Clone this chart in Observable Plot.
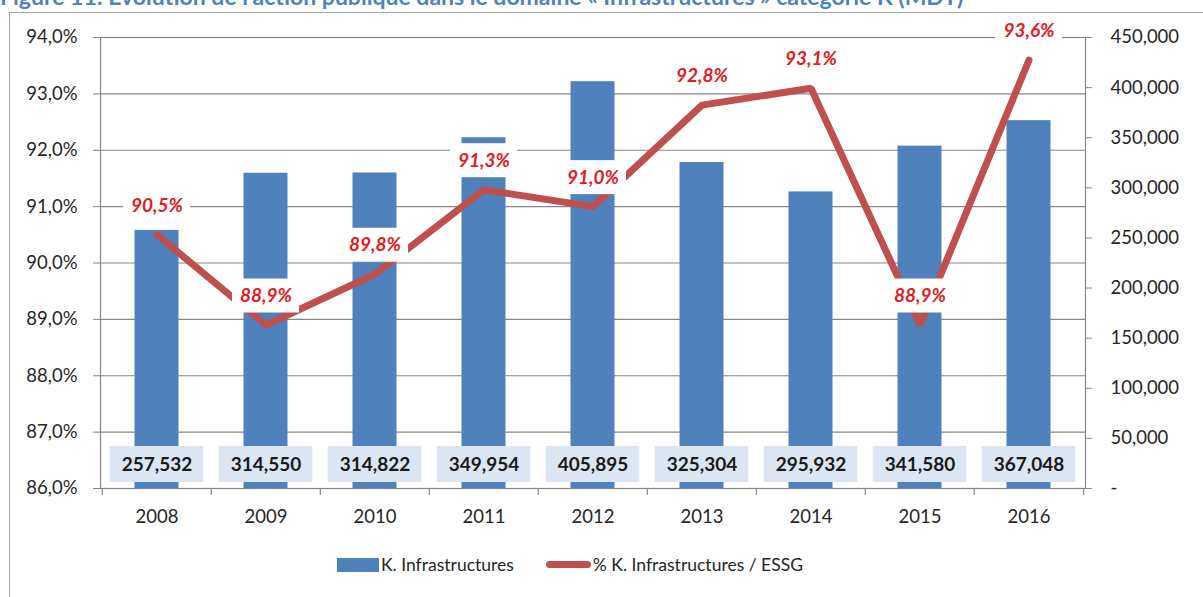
<!DOCTYPE html>
<html>
<head>
<meta charset="utf-8">
<script src="https://cdn.jsdelivr.net/npm/d3@7"></script>
<script src="https://cdn.jsdelivr.net/npm/@observablehq/plot@0.6"></script>
<style>
  html, body { margin: 0; padding: 0; background: #fff; overflow: hidden; width: 1203px; height: 597px; }
  body { position: relative; font-family: Lato, "Open Sans", sans-serif; }
  #title { position: absolute; left: 0; top: -15px; font-size: 23px; font-weight: bold; color: #4f81bd; white-space: nowrap; line-height: 23px; }
  #frame { position: absolute; left: 9px; top: 12px; width: 1400px; height: 800px; border: 1.5px solid #a6a6a6; box-sizing: border-box; }
  #chart { position: absolute; left: 0; top: 0; }
  #legend { position: absolute; left: 337px; top: 554px; display: flex; align-items: center; font-size: 17.5px; color: #262626; }
  .sw-bar { width: 42px; height: 14px; background: #4f81bd; margin-right: 2px; }
  .sw-line { width: 45px; height: 7px; border-radius: 4px; background: #c0504d; margin-right: 2px; margin-left: 32px; }
</style>
</head>
<body>
<div id="title">Figure 11: Évolution de l’action publique dans le domaine « Infrastructures » catégorie K (MDT)</div>
<div id="frame"></div>
<div id="chart"></div>
<div id="legend">
  <div class="sw-bar"></div><span>K. Infrastructures</span>
  <div class="sw-line"></div><span>% K. Infrastructures / ESSG</span>
</div>
<script>
// ---- data ----
const years = ["2008", "2009", "2010", "2011", "2012", "2013", "2014", "2015", "2016"];
const amounts = [257532, 314550, 314822, 349954, 405895, 325304, 295932, 341580, 367048];
const shares = [90.5, 88.9, 89.8, 91.3, 91.0, 92.8, 93.1, 88.9, 93.6];
const pctTicks = [86, 87, 88, 89, 90, 91, 92, 93, 94];
const amountTicks = [0, 50000, 100000, 150000, 200000, 250000, 300000, 350000, 400000, 450000];

// ---- dual-axis mapping (amount -> percent-space) ----
const pMin = 86, pMax = 94, aMax = 450000;
const toP = v => pMin + v / aMax * (pMax - pMin);
const toA = p => Math.round((p - pMin) / (pMax - pMin) * aMax);

const rows = years.map((y, i) => ({year: y, amount: amounts[i], share: shares[i], amountP: toP(amounts[i])}));

const W = 1203, H = 540;
const mL = 100, mR = 118, mT = 37, mB = 52;
const bw = (W - mL - mR) / years.length;

const grid = "#878787";
const txt = "#262626";
const fmtPct = d => d.toFixed(1).replace(".", ",") + "%";
const fmtAmt = v => v === 0 ? "-" : d3.format(",")(v);

const chart = Plot.plot({
  width: W,
  height: H,
  marginLeft: mL,
  marginRight: mR,
  marginTop: mT,
  marginBottom: mB,
  style: {fontFamily: "Lato, 'Open Sans', sans-serif", background: "transparent"},
  x: {type: "band", domain: years, padding: 0},
  y: {domain: [pMin, pMax]},
  marks: [
    Plot.ruleY(pctTicks, {stroke: grid, strokeWidth: 1.2}),
    Plot.frame({stroke: grid, strokeWidth: 1.2}),
    // x-axis ticks at band boundaries
    Plot.ruleX(years, {x: d => d, y1: pMin, y2: pMin, dx: -bw / 2, insetBottom: -7, stroke: grid, strokeWidth: 1.2}),
    Plot.ruleX(years.slice(-1), {x: d => d, y1: pMin, y2: pMin, dx: bw / 2, insetBottom: -7, stroke: grid, strokeWidth: 1.2}),
    // bars
    Plot.barY(rows, {x: "year", y1: pMin, y2: "amountP", fill: "#4f81bd", insetLeft: 32.5, insetRight: 32.5}),
    // amount label boxes + text
    Plot.barY(rows, {x: "year", y1: pMin, y2: pMin, insetTop: -42, insetBottom: 6, insetLeft: 7.7, insetRight: 7.7, fill: "#dce6f2"}),
    Plot.text(rows, {x: "year", y: pMin, dy: -24, text: d => d3.format(",")(d.amount), fontSize: 19, fontWeight: "bold", fill: "#1a1a1a"}),
    // line
    Plot.line(rows, {x: "year", y: "share", stroke: "#c0504d", strokeWidth: 7, strokeLinejoin: "miter", strokeLinecap: "round"}),
    // percent label boxes + text
    Plot.barY(rows, {x: "year", y1: "share", y2: "share", insetTop: -46, insetBottom: 12, insetLeft: 21, insetRight: 21, fill: "white"}),
    Plot.text(rows, {x: "year", y: "share", dy: -29, text: d => fmtPct(d.share), fontSize: 19, fontWeight: "bold", fontStyle: "italic", fill: "#e31b23"}),
    // axes
    Plot.axisY(pctTicks, {anchor: "left", tickFormat: fmtPct, tickSize: 7, tickPadding: 16, fontSize: 18.5, stroke: grid, fill: txt, label: null}),
    Plot.axisY(amountTicks.map(toP), {anchor: "right", tickFormat: d => fmtAmt(toA(d)), tickSize: 6, tickPadding: 19, textAnchor: "start", fontSize: 18.5, stroke: grid, fill: txt, label: null}),
    Plot.axisX({tickSize: 0, tickPadding: 21, fontSize: 18.5, fill: txt, label: null})
  ]
});
document.getElementById("chart").appendChild(chart);
</script>
</body>
</html>
